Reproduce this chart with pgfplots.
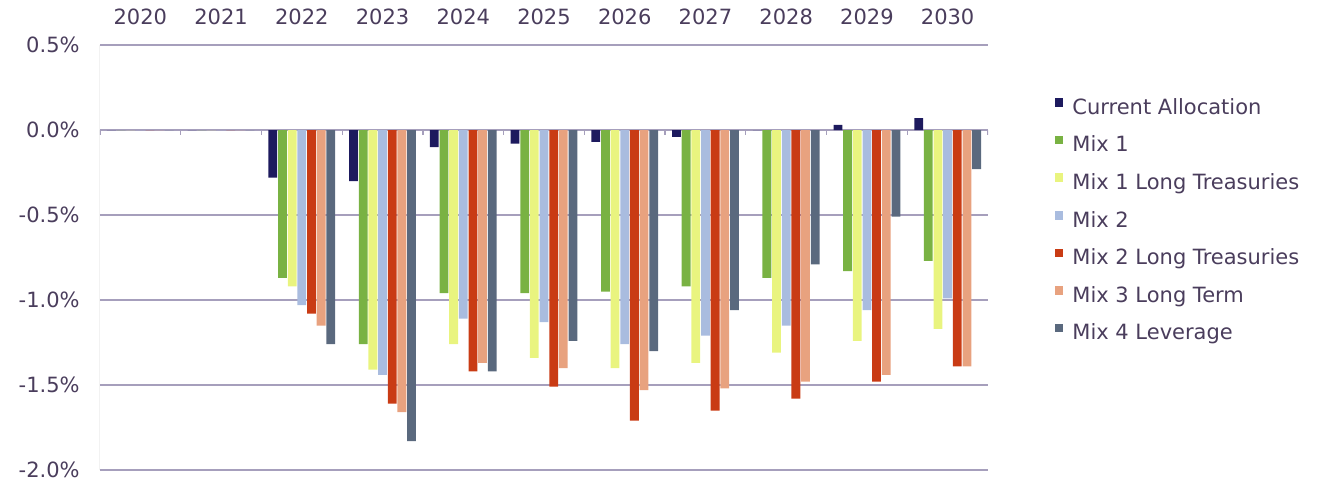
\documentclass[border=0pt]{standalone}
\usepackage{fontspec}
\setmainfont{DejaVu Sans}
\usepackage{pgfplots}
\pgfplotsset{compat=1.18}
\usepackage{pgfplotstable}

\definecolor{txt}{HTML}{4A3D5C}
\definecolor{gridc}{HTML}{A69FBC}
\definecolor{cCur}{HTML}{1D1A5E}
\definecolor{cM1}{HTML}{79B243}
\definecolor{cM1L}{HTML}{E9F47F}
\definecolor{cM2}{HTML}{A9BCDF}
\definecolor{cM2L}{HTML}{C93B14}
\definecolor{cM3}{HTML}{E8A27F}
\definecolor{cM4}{HTML}{5A697E}

% x = 0..10 stands for the years 2020..2030; values in percent
\pgfplotstableread{
x   cur    m1     m1l    m2     m2l    m3     m4
0   0      0      0      0      0      0      0
1   0      0      0      0      0      0      0
2  -0.28  -0.87  -0.92  -1.03  -1.08  -1.15  -1.26
3  -0.30  -1.26  -1.41  -1.44  -1.61  -1.66  -1.83
4  -0.10  -0.96  -1.26  -1.11  -1.42  -1.37  -1.42
5  -0.08  -0.96  -1.34  -1.13  -1.51  -1.40  -1.24
6  -0.07  -0.95  -1.40  -1.26  -1.71  -1.53  -1.30
7  -0.04  -0.92  -1.37  -1.21  -1.65  -1.52  -1.06
8   0     -0.87  -1.31  -1.15  -1.58  -1.48  -0.79
9   0.03  -0.83  -1.24  -1.06  -1.48  -1.44  -0.51
10  0.07  -0.77  -1.17  -0.99  -1.39  -1.39  -0.23
}\returns

\begin{document}
\begin{tikzpicture}
\useasboundingbox (0pt,0pt) rectangle (660.5pt,-240.5pt);
\begin{axis}[
  at={(50pt,-235pt)}, anchor=south west,
  scale only axis,
  width=444pt, height=212.5pt,
  xmin=-0.5, xmax=10.5,
  ymin=-2, ymax=0.5,
  ybar=0.43pt, bar width=4.4pt,
  axis line style={draw=none},
  major tick length=0pt,
  xtick={0,...,10},
  xticklabels={2020,2021,2022,2023,2024,2025,2026,2027,2028,2029,2030},
  xticklabel pos=upper,
  x tick label style={font=\fontsize{10.5}{12}\selectfont, text=txt,
    anchor=south, inner sep=0pt, yshift=10pt},
  ytick={-2,-1.5,-1,-0.5,0,0.5},
  yticklabels={-2.0\%,-1.5\%,-1.0\%,-0.5\%,0.0\%,0.5\%},
  y tick label style={font=\fontsize{10.5}{12}\selectfont, text=txt,
    anchor=east, inner sep=0pt, xshift=-10pt},
  ymajorgrids,
  grid style={gridc, line width=0.7pt},
  legend cell align=left,
  legend style={
    at={(1.068,0.885)}, anchor=north west,
    draw=none, fill=none,
    font=\fontsize{10.5}{12}\selectfont,
    text=txt,
    row sep=8.25pt,
    nodes={inner sep=0pt, anchor=west, text height=8pt, text depth=2.5pt},
  },
  legend image code/.code={\fill[#1, draw=none] (0pt,1.0pt) rectangle (4.3pt,5.3pt);},
]
\addplot[fill=cCur, draw=none] table[x=x, y=cur] \returns;
\addlegendentry{\hspace{4.5pt}Current Allocation}
\addplot[fill=cM1, draw=none] table[x=x, y=m1] \returns;
\addlegendentry{\hspace{4.5pt}Mix 1}
\addplot[fill=cM1L, draw=none] table[x=x, y=m1l] \returns;
\addlegendentry{\hspace{4.5pt}Mix 1 Long Treasuries}
\addplot[fill=cM2, draw=none] table[x=x, y=m2] \returns;
\addlegendentry{\hspace{4.5pt}Mix 2}
\addplot[fill=cM2L, draw=none] table[x=x, y=m2l] \returns;
\addlegendentry{\hspace{4.5pt}Mix 2 Long Treasuries}
\addplot[fill=cM3, draw=none] table[x=x, y=m3] \returns;
\addlegendentry{\hspace{4.5pt}Mix 3 Long Term}
\addplot[fill=cM4, draw=none] table[x=x, y=m4] \returns;
\addlegendentry{\hspace{4.5pt}Mix 4 Leverage}

% left axis line and category ticks along the zero line
\draw[gray!80, line width=0.5pt] (rel axis cs:0,0) -- (rel axis cs:0,1);
\pgfplotsinvokeforeach{0,...,11}{
  \draw[gridc, line width=0.6pt] (axis cs:#1-0.5,0) -- ++(0pt,-2.5pt);
}
\end{axis}
\end{tikzpicture}
\end{document}
